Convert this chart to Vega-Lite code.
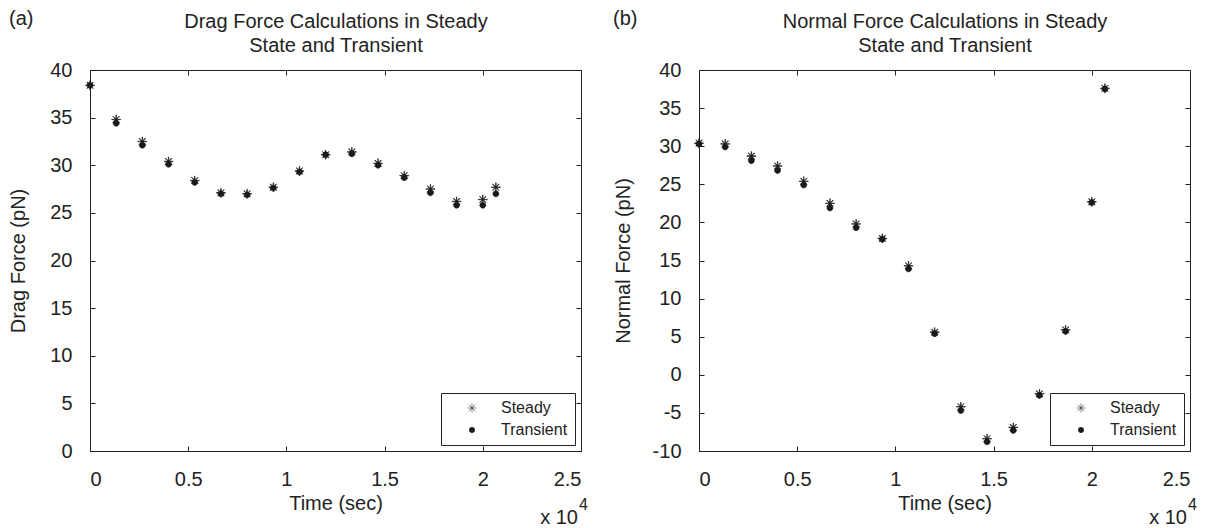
{
  "$schema": "https://vega.github.io/schema/vega-lite/v6.json",
  "background": "white",
  "padding": {"left": 8, "top": 8, "right": 0, "bottom": 0},
  "spacing": 118,
  "bounds": "flush",
  "resolve": {"scale": {"shape": "independent"}, "legend": {"shape": "independent"}},
  "config": {
    "font": "Liberation Sans",
    "view": {"stroke": "#222", "strokeWidth": 1},
    "axis": {
      "grid": false,
      "labelFont": "Liberation Sans",
      "titleFont": "Liberation Sans",
      "labelFontSize": 20,
      "titleFontSize": 20,
      "titleFontWeight": "normal",
      "labelColor": "#222",
      "titleColor": "#222",
      "domainColor": "#222",
      "tickColor": "#222",
      "tickSize": -5,
      "labelPadding": 23
    },
    "legend": {
      "title": null,
      "orient": "bottom-right",
      "offset": 6,
      "strokeColor": "#222",
      "fillColor": "white",
      "padding": 7,
      "labelFontSize": 16,
      "labelColor": "#222",
      "labelFont": "Liberation Sans",
      "symbolSize": 81,
      "symbolOffset": 16,
      "labelOffset": 21,
      "rowPadding": 6,
      "symbolStrokeWidth": 0.6,
      "symbolFillColor": "#1a1a1a",
      "symbolStrokeColor": "#1a1a1a"
    },
    "text": {"font": "Liberation Sans", "color": "#222"}
  },
  "datasets": {
    "drag": [
      {"time": 0, "series": "Steady", "force": 38.4},
      {"time": 1333, "series": "Steady", "force": 34.8},
      {"time": 2667, "series": "Steady", "force": 32.5},
      {"time": 4000, "series": "Steady", "force": 30.4},
      {"time": 5333, "series": "Steady", "force": 28.4},
      {"time": 6667, "series": "Steady", "force": 27.1},
      {"time": 8000, "series": "Steady", "force": 27.0},
      {"time": 9333, "series": "Steady", "force": 27.7},
      {"time": 10667, "series": "Steady", "force": 29.4},
      {"time": 12000, "series": "Steady", "force": 31.1},
      {"time": 13333, "series": "Steady", "force": 31.4},
      {"time": 14667, "series": "Steady", "force": 30.2},
      {"time": 16000, "series": "Steady", "force": 28.9},
      {"time": 17333, "series": "Steady", "force": 27.5},
      {"time": 18667, "series": "Steady", "force": 26.2},
      {"time": 20000, "series": "Steady", "force": 26.4},
      {"time": 20667, "series": "Steady", "force": 27.7},
      {"time": 0, "series": "Transient", "force": 38.4},
      {"time": 1333, "series": "Transient", "force": 34.4},
      {"time": 2667, "series": "Transient", "force": 32.1},
      {"time": 4000, "series": "Transient", "force": 30.1},
      {"time": 5333, "series": "Transient", "force": 28.2},
      {"time": 6667, "series": "Transient", "force": 27.0},
      {"time": 8000, "series": "Transient", "force": 26.9},
      {"time": 9333, "series": "Transient", "force": 27.6},
      {"time": 10667, "series": "Transient", "force": 29.3},
      {"time": 12000, "series": "Transient", "force": 31.1},
      {"time": 13333, "series": "Transient", "force": 31.2},
      {"time": 14667, "series": "Transient", "force": 30.0},
      {"time": 16000, "series": "Transient", "force": 28.7},
      {"time": 17333, "series": "Transient", "force": 27.1},
      {"time": 18667, "series": "Transient", "force": 25.8},
      {"time": 20000, "series": "Transient", "force": 25.8},
      {"time": 20667, "series": "Transient", "force": 27.0}
    ],
    "normal": [
      {"time": 0, "series": "Steady", "force": 30.4},
      {"time": 1333, "series": "Steady", "force": 30.3},
      {"time": 2667, "series": "Steady", "force": 28.7},
      {"time": 4000, "series": "Steady", "force": 27.4},
      {"time": 5333, "series": "Steady", "force": 25.4},
      {"time": 6667, "series": "Steady", "force": 22.5},
      {"time": 8000, "series": "Steady", "force": 19.8},
      {"time": 9333, "series": "Steady", "force": 17.9},
      {"time": 10667, "series": "Steady", "force": 14.3},
      {"time": 12000, "series": "Steady", "force": 5.6},
      {"time": 13333, "series": "Steady", "force": -4.2},
      {"time": 14667, "series": "Steady", "force": -8.4},
      {"time": 16000, "series": "Steady", "force": -6.9},
      {"time": 17333, "series": "Steady", "force": -2.5},
      {"time": 18667, "series": "Steady", "force": 5.9},
      {"time": 20000, "series": "Steady", "force": 22.7},
      {"time": 20667, "series": "Steady", "force": 37.6},
      {"time": 0, "series": "Transient", "force": 30.3},
      {"time": 1333, "series": "Transient", "force": 29.9},
      {"time": 2667, "series": "Transient", "force": 28.1},
      {"time": 4000, "series": "Transient", "force": 26.8},
      {"time": 5333, "series": "Transient", "force": 24.9},
      {"time": 6667, "series": "Transient", "force": 21.9},
      {"time": 8000, "series": "Transient", "force": 19.3},
      {"time": 9333, "series": "Transient", "force": 17.8},
      {"time": 10667, "series": "Transient", "force": 13.9},
      {"time": 12000, "series": "Transient", "force": 5.4},
      {"time": 13333, "series": "Transient", "force": -4.7},
      {"time": 14667, "series": "Transient", "force": -8.8},
      {"time": 16000, "series": "Transient", "force": -7.3},
      {"time": 17333, "series": "Transient", "force": -2.7},
      {"time": 18667, "series": "Transient", "force": 5.7},
      {"time": 20000, "series": "Transient", "force": 22.6},
      {"time": 20667, "series": "Transient", "force": 37.5}
    ]
  },
  "hconcat": [
    {
      "width": 491,
      "height": 381,
      "layer": [
        {
          "data": {"name": "drag"},
          "mark": {"type": "point", "filled": true, "size": 81, "color": "#1a1a1a", "stroke": "#1a1a1a", "strokeWidth": 0.6, "opacity": 1},
          "encoding": {
            "x": {"field": "time", "type": "quantitative", "scale": {"domain": [0, 25000], "nice": false}, "axis": {"orient": "bottom", "values": [0, 5000, 10000, 15000, 20000, 25000], "labelExpr": "datum.value / 10000", "title": "Time (sec)", "titlePadding": 4}},
            "y": {"field": "force", "type": "quantitative", "scale": {"domain": [0, 40], "nice": false}, "axis": {"orient": "left", "values": [0, 5, 10, 15, 20, 25, 30, 35, 40], "labelExpr": "'' + datum.value", "title": "Drag Force (pN)", "titlePadding": 21}},
            "shape": {"field": "series", "type": "nominal", "scale": {"domain": ["Steady", "Transient"], "range": ["M-0.06,-1L0.06,-1L0.06,1L-0.06,1ZM-1,-0.06L1,-0.06L1,0.06L-1,0.06ZM-0.66,-0.74L0.74,0.66L0.66,0.74L-0.74,-0.66ZM-0.66,0.74L0.74,-0.66L0.66,-0.74L-0.74,0.66Z", "M0.66,0A0.66,0.66 0 1,1 -0.66,0A0.66,0.66 0 1,1 0.66,0Z"]}, "legend": {"encode": {"symbols": {"update": {"stroke": {"value": "#1a1a1a"}, "strokeWidth": {"value": 0.6}, "fill": {"value": "#1a1a1a"}, "opacity": {"value": 1}}}}}}
          }
        },
        {
          "data": {"name": "drag"},
          "mark": {"type": "point", "opacity": 0},
          "encoding": {
            "x": {"field": "time", "type": "quantitative", "axis": {"orient": "top", "labels": false, "domain": false, "values": [0, 5000, 10000, 15000, 20000, 25000], "title": ["Drag Force Calculations in Steady", "State and Transient"], "titleLineHeight": 24, "titlePadding": 14}},
            "y": {"field": "force", "type": "quantitative", "axis": {"orient": "right", "labels": false, "domain": false, "title": null, "values": [0, 5, 10, 15, 20, 25, 30, 35, 40]}}
          }
        },
        {
          "data": {"values": [{}]},
          "mark": {"type": "text", "text": "(a)", "align": "left", "baseline": "middle", "dx": -81, "dy": -51, "fontSize": 20},
          "encoding": {"x": {"datum": 0, "type": "quantitative", "axis": null}, "y": {"datum": 40, "type": "quantitative", "axis": null}}
        },
        {
          "data": {"values": [{}]},
          "mark": {"type": "text", "text": "x 10", "align": "right", "baseline": "alphabetic", "dx": -3, "dy": 73, "fontSize": 20},
          "encoding": {"x": {"datum": 25000, "type": "quantitative", "axis": null}, "y": {"datum": 0, "type": "quantitative", "axis": null}}
        },
        {
          "data": {"values": [{}]},
          "mark": {"type": "text", "text": "4", "align": "left", "baseline": "alphabetic", "dx": -2, "dy": 59, "fontSize": 16},
          "encoding": {"x": {"datum": 25000, "type": "quantitative", "axis": null}, "y": {"datum": 0, "type": "quantitative", "axis": null}}
        }
      ],
      "resolve": {"axis": {"x": "independent", "y": "independent"}}
    },
    {
      "width": 491,
      "height": 381,
      "layer": [
        {
          "data": {"name": "normal"},
          "mark": {"type": "point", "filled": true, "size": 81, "color": "#1a1a1a", "stroke": "#1a1a1a", "strokeWidth": 0.6, "opacity": 1},
          "encoding": {
            "x": {"field": "time", "type": "quantitative", "scale": {"domain": [0, 25000], "nice": false}, "axis": {"orient": "bottom", "values": [0, 5000, 10000, 15000, 20000, 25000], "labelExpr": "datum.value / 10000", "title": "Time (sec)", "titlePadding": 4}},
            "y": {"field": "force", "type": "quantitative", "scale": {"domain": [-10, 40], "nice": false}, "axis": {"orient": "left", "values": [-10, -5, 0, 5, 10, 15, 20, 25, 30, 35, 40], "labelExpr": "'' + datum.value", "title": "Normal Force (pN)", "titlePadding": 19}},
            "shape": {"field": "series", "type": "nominal", "scale": {"domain": ["Steady", "Transient"], "range": ["M-0.06,-1L0.06,-1L0.06,1L-0.06,1ZM-1,-0.06L1,-0.06L1,0.06L-1,0.06ZM-0.66,-0.74L0.74,0.66L0.66,0.74L-0.74,-0.66ZM-0.66,0.74L0.74,-0.66L0.66,-0.74L-0.74,0.66Z", "M0.66,0A0.66,0.66 0 1,1 -0.66,0A0.66,0.66 0 1,1 0.66,0Z"]}, "legend": {"encode": {"symbols": {"update": {"stroke": {"value": "#1a1a1a"}, "strokeWidth": {"value": 0.6}, "fill": {"value": "#1a1a1a"}, "opacity": {"value": 1}}}}}}
          }
        },
        {
          "data": {"name": "normal"},
          "mark": {"type": "point", "opacity": 0},
          "encoding": {
            "x": {"field": "time", "type": "quantitative", "axis": {"orient": "top", "labels": false, "domain": false, "values": [0, 5000, 10000, 15000, 20000, 25000], "title": ["Normal Force Calculations in Steady", "State and Transient"], "titleLineHeight": 24, "titlePadding": 14}},
            "y": {"field": "force", "type": "quantitative", "axis": {"orient": "right", "labels": false, "domain": false, "title": null, "values": [-10, -5, 0, 5, 10, 15, 20, 25, 30, 35, 40]}}
          }
        },
        {
          "data": {"values": [{}]},
          "mark": {"type": "text", "text": "(b)", "align": "left", "baseline": "middle", "dx": -86, "dy": -51, "fontSize": 20},
          "encoding": {"x": {"datum": 0, "type": "quantitative", "axis": null}, "y": {"datum": 40, "type": "quantitative", "axis": null}}
        },
        {
          "data": {"values": [{}]},
          "mark": {"type": "text", "text": "x 10", "align": "right", "baseline": "alphabetic", "dx": -3, "dy": 73, "fontSize": 20},
          "encoding": {"x": {"datum": 25000, "type": "quantitative", "axis": null}, "y": {"datum": -10, "type": "quantitative", "axis": null}}
        },
        {
          "data": {"values": [{}]},
          "mark": {"type": "text", "text": "4", "align": "left", "baseline": "alphabetic", "dx": -2, "dy": 59, "fontSize": 16},
          "encoding": {"x": {"datum": 25000, "type": "quantitative", "axis": null}, "y": {"datum": -10, "type": "quantitative", "axis": null}}
        }
      ],
      "resolve": {"axis": {"x": "independent", "y": "independent"}}
    }
  ]
}
